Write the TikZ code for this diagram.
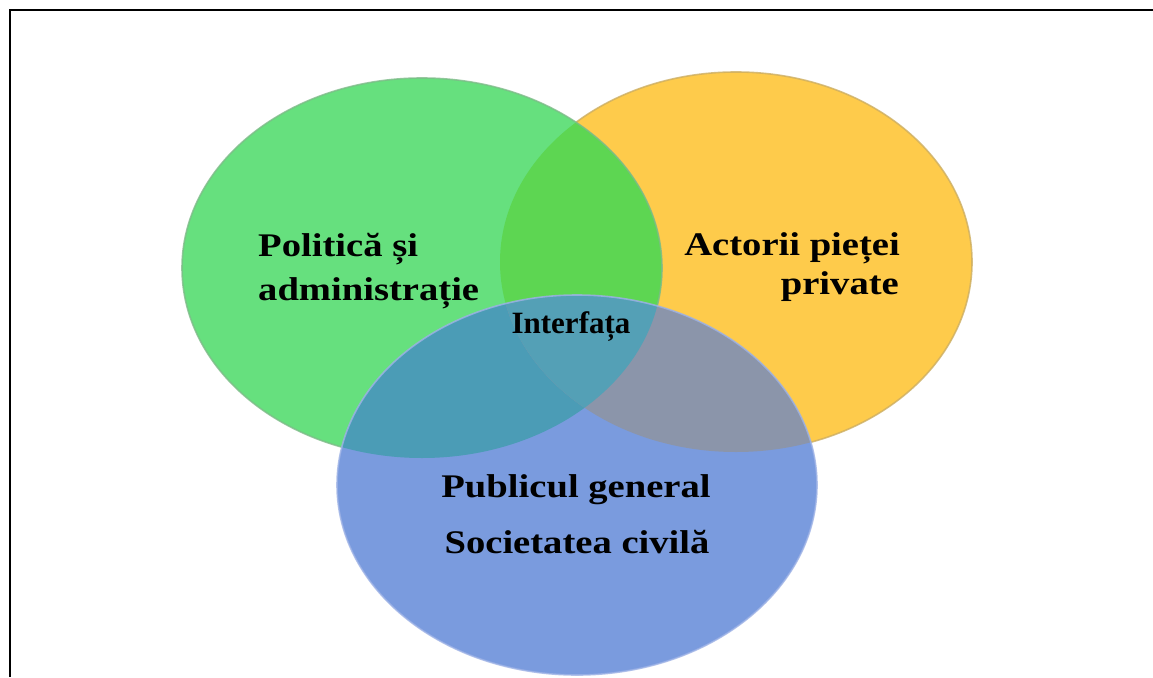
\documentclass[tikz,border=0pt]{standalone}
\usepackage{fontspec}
\setmainfont{Liberation Serif}
\newfontfamily\labfont[FakeStretch=1.17]{Liberation Serif}
\definecolor{gcol}{HTML}{66E07E}
\definecolor{ycol}{HTML}{FECB4B}
\definecolor{bcol}{HTML}{7A9BDE}
\definecolor{gycol}{HTML}{5DD652}
\definecolor{gbcol}{HTML}{4B9CB6}
\definecolor{ybcol}{HTML}{8B95AA}
\definecolor{gybcol}{HTML}{54A0B6}
\definecolor{gline}{HTML}{7DBB88}
\definecolor{yline}{HTML}{CDAE62}
\definecolor{bline}{HTML}{9FB3E6}
\begin{document}
\begin{tikzpicture}[x=1pt,y=-1pt,
  lab/.style={font=\labfont\bfseries\fontsize{33}{38}\selectfont, inner sep=0pt, text=black},
  intlab/.style={font=\bfseries\fontsize{31}{36}\selectfont, inner sep=0pt, text=black},
  rim/.style={line width=1.6pt, opacity=0.8}]
\useasboundingbox (0,0) rectangle (1153,677);
\fill[white] (0,0) rectangle (1153,677);
\def\GE{(422,268) ellipse [x radius=240pt, y radius=190pt]}
\def\YE{(736,262) ellipse [x radius=236pt, y radius=190pt]}
\def\BE{(577,485) ellipse [x radius=240pt, y radius=190pt]}
% yellow
\fill[ycol] \YE;
\draw[rim, yline] \YE;
% green
\fill[gcol] \GE;
\begin{scope}
  \clip \YE;
  \fill[gycol] \GE;
\end{scope}
\draw[rim, gline] \GE;
% blue
\fill[bcol] \BE;
\begin{scope}
  \clip \BE;
  \fill[gbcol] \GE;
\end{scope}
\begin{scope}
  \clip \BE;
  \fill[ybcol] \YE;
\end{scope}
\begin{scope}
  \clip \BE;
  \clip \YE;
  \fill[gybcol] \GE;
\end{scope}
\draw[rim, bline] \BE;
% frame
\draw[line width=2pt, black] (10.3,677) -- (10.3,10.3) -- (1153,10.3);
% labels
\node[lab, anchor=base west] (pol1) at (258,256) {Politică și};
\node[lab, anchor=base west] (pol2) at (258,300) {administrație};
\node[lab, anchor=base east] (act1) at (900,255) {Actorii pieței};
\node[lab, anchor=base east] (act2) at (899,294) {private};
\node[lab, anchor=base] (pub1) at (576,497) {Publicul general};
\node[lab, anchor=base] (pub2) at (577,553) {Societatea civilă};
\node[intlab, anchor=base] (int) at (571,333) {Interfața};
\end{tikzpicture}
\end{document}
